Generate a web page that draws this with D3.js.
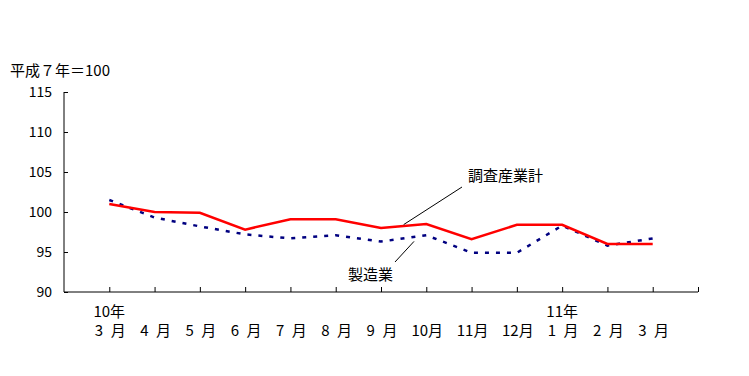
<!DOCTYPE html>
<html>
<head>
<meta charset="utf-8">
<script src="https://cdn.jsdelivr.net/npm/d3@7"></script>
<style>
  body { margin: 0; background: #fff; }
  svg text { font-family: "Noto Sans CJK JP", "Noto Sans", sans-serif; fill: #000; }
</style>
</head>
<body>
<script>
// data (index: 平成7年 = 100)
const months = ['3 月', '4 月', '5 月', '6 月', '7 月', '8 月', '9 月', '10月', '11月', '12月', '1 月', '2 月', '3 月'];
const years = [{ i: 0, label: '10年' }, { i: 10, label: '11年' }];
const allIndustries = [101.0, 100.0, 99.9, 97.8, 99.1, 99.1, 98.0, 98.5, 96.6, 98.4, 98.4, 96.0, 96.0];
const manufacturing = [101.5, 99.3, 98.2, 97.2, 96.7, 97.1, 96.3, 97.1, 94.9, 94.9, 98.3, 95.8, 96.7];
const yTicks = [90, 95, 100, 105, 110, 115];

const svg = d3.select('body').append('svg')
  .attr('width', 749)
  .attr('height', 376);

const x = d3.scaleLinear().domain([-1, 13]).range([64, 698]);
const y = d3.scaleLinear().domain([90, 115]).range([292, 92]);

// unit note
svg.append('text')
  .attr('x', 10).attr('y', 76)
  .attr('font-size', 15)
  .text('平成７年＝100');

// y axis
const yAxis = svg.append('g')
  .attr('transform', 'translate(64,0)')
  .call(d3.axisLeft(y).tickValues(yTicks).tickSize(-4).tickPadding(12).tickFormat(d3.format('d')));
yAxis.select('.domain').attr('d', 'M0,' + y(115) + 'V' + y(90));
yAxis.selectAll('text').attr('font-size', 14).attr('font-family', null);

// x axis, ticks only
const xAxis = svg.append('g')
  .attr('transform', 'translate(0,292)')
  .call(d3.axisBottom(x).tickValues(d3.range(0, 14)).tickSize(-5).tickFormat(''));
xAxis.select('.domain').attr('d', 'M' + x(-1) + ',0H' + x(13));

// month labels
svg.selectAll('.month')
  .data(months)
  .enter()
  .append('text')
  .attr('class', 'month')
  .attr('x', (d, i) => x(i) + 1)
  .attr('y', 336)
  .attr('text-anchor', 'middle')
  .attr('font-size', 15)
  .text(d => d.replace(' ', '\u2002'));

svg.selectAll('.year')
  .data(years)
  .enter()
  .append('text')
  .attr('class', 'year')
  .attr('x', d => x(d.i))
  .attr('y', 317)
  .attr('text-anchor', 'middle')
  .attr('font-size', 15)
  .text(d => d.label);

const line = d3.line()
  .x((d, i) => x(i))
  .y(d => y(d));

svg.append('path')
  .datum(manufacturing)
  .attr('d', line)
  .attr('fill', 'none')
  .attr('stroke', '#000080')
  .attr('stroke-width', 2.5)
  .attr('stroke-dasharray', '4,7');

svg.append('path')
  .datum(allIndustries)
  .attr('d', line)
  .attr('fill', 'none')
  .attr('stroke', '#ff0000')
  .attr('stroke-width', 2.5);

// series labels with leader lines
svg.append('line')
  .attr('x1', 462).attr('y1', 187)
  .attr('x2', x(6.5)).attr('y2', y(98.3) - 1)
  .attr('stroke', '#000').attr('stroke-width', 1);
svg.append('text')
  .attr('x', 468).attr('y', 181)
  .attr('font-size', 15)
  .text('調査産業計');

svg.append('line')
  .attr('x1', 395).attr('y1', 262)
  .attr('x2', 414).attr('y2', y(96.7) + 3)
  .attr('stroke', '#000').attr('stroke-width', 1);
svg.append('text')
  .attr('x', 348).attr('y', 280)
  .attr('font-size', 15)
  .text('製造業');
</script>
</body>
</html>
